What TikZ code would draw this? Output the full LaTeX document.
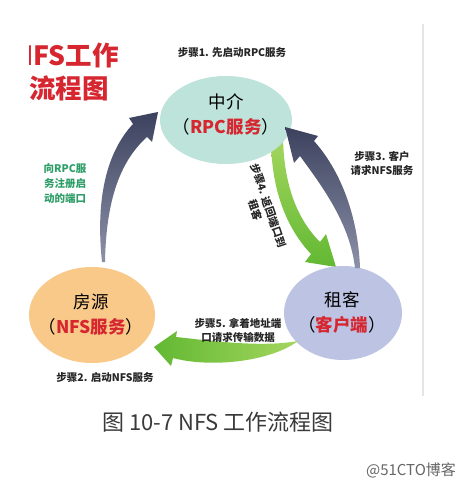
\documentclass[tikz,border=0pt]{standalone}
\usepackage{fontspec}
\setmainfont{Noto Sans CJK SC}
\usetikzlibrary{shapes.geometric}
\definecolor{titlered}{HTML}{D6262F}
\definecolor{midfill}{HTML}{BDE3DA}
\definecolor{housefill}{HTML}{F9C98A}
\definecolor{tenantfill}{HTML}{BCC3E3}
\definecolor{navydark}{HTML}{3C425E}
\definecolor{navylight}{HTML}{8C90A8}
\definecolor{greendark}{HTML}{62B833}
\definecolor{greenlight}{HTML}{A4D65E}
\definecolor{stepgreen}{HTML}{2E9E68}
\definecolor{captiongray}{HTML}{3A3A3A}
\tikzset{
  bubble/.style={ellipse, draw=none, inner sep=0},
  txt/.style={inner sep=0, align=center},
  steplabel/.style={txt, font=\fontsize{10.5}{14}\selectfont\bfseries, text=black!85},
  bigtext/.style={txt, font=\fontsize{17.5}{25}\selectfont},
  titletext/.style={txt, font=\fontsize{26.5}{30}\selectfont\bfseries, text=titlered},
}
\begin{document}
\begin{tikzpicture}[x=1pt,y=-1pt]
\useasboundingbox (0,0) rectangle (466,489);
\fill[white] (0,0) rectangle (466,489);
% faint page edge
\draw[black!10, line width=2.5] (423,24) -- (423,396);

% title
\begin{scope}
\clip (29,30) rectangle (130,72);
\node[titletext, anchor=east] (title1) at (119,55) {NFS工作};
\end{scope}
\node[titletext, anchor=west] (title2) at (29,88) {流程图};

% green arrow step 4 (behind the bubbles)
\shade[top color=greenlight, bottom color=greendark]
  (271,138) .. controls (271,195) and (290,232) .. (311,254)
  -- (305,262) -- (336,267) -- (326,234) -- (320,242)
  .. controls (300,222) and (284,190) .. (283,138) -- cycle;

% bubbles
\node[bubble, fill=midfill, minimum width=132, minimum height=88] (mid) at (226,120) {};
\node[bubble, fill=housefill, minimum width=126, minimum height=96] (house) at (92,315) {};
\node[bubble, fill=tenantfill, minimum width=118, minimum height=94] (tenant) at (343,313) {};

\node[bigtext] (midtext) at (226,114) {中介\\（{\bfseries\color{titlered}RPC服务}）};
\node[bigtext] (housetext) at (91,314) {房源\\（{\bfseries\color{titlered}NFS服务}）};
\node[bigtext] (tenanttext) at (342,312) {租客\\（{\bfseries\color{titlered}客户端}）};

% left navy arrow (house -> mid)
\shade[top color=navydark, bottom color=navylight]
  (102,262) .. controls (96,205) and (104,155) .. (133,124)
  -- (129,118) -- (158,112) -- (152,142) -- (147,137)
  .. controls (118,163) and (106,205) .. (105,262) -- cycle;

% right navy arrow (tenant -> mid)
\shade[top color=navydark, bottom color=navylight]
  (355,268) .. controls (350,225) and (325,190) .. (300,156)
  -- (294,163) -- (285,127) -- (318,136) -- (314,141)
  .. controls (340,170) and (358,215) .. (360,268) -- cycle;

% green arrow step 5 (tenant -> house)
\shade[left color=greendark, right color=greenlight]
  (298,341) .. controls (260,348) and (205,340) .. (176,337)
  -- (177,331) -- (154,347) -- (171,366) -- (173,358)
  .. controls (210,368) and (270,362) .. (298,341) -- cycle;

% step labels
\node[steplabel] (s1) at (232,53) {步骤1. 先启动RPC服务};
\node[steplabel] (s2) at (105,378) {步骤2. 启动NFS服务};
\node[steplabel] (s3) at (382,163) {步骤3. 客户\\请求NFS服务};
\node[steplabel, rotate=-71] (s4) at (262,208) {步骤4. 返回端口到\\租客};
\node[steplabel] (s5) at (238,330) {步骤5. 拿着地址端\\口请求传输数据};
\node[steplabel, text=stepgreen, font=\fontsize{10.5}{15}\selectfont\bfseries] (reg) at (65,184) {向RPC服\\务注册启\\动的端口};

% caption and watermark
\node[txt, text=captiongray, font=\fontsize{22}{26}\selectfont] (caption) at (218,422) {图 10-7 NFS 工作流程图};
\node[txt, text=black!60, font=\fontsize{15}{18}\selectfont] (mark) at (411,470) {@51CTO博客};
\end{tikzpicture}
\end{document}
